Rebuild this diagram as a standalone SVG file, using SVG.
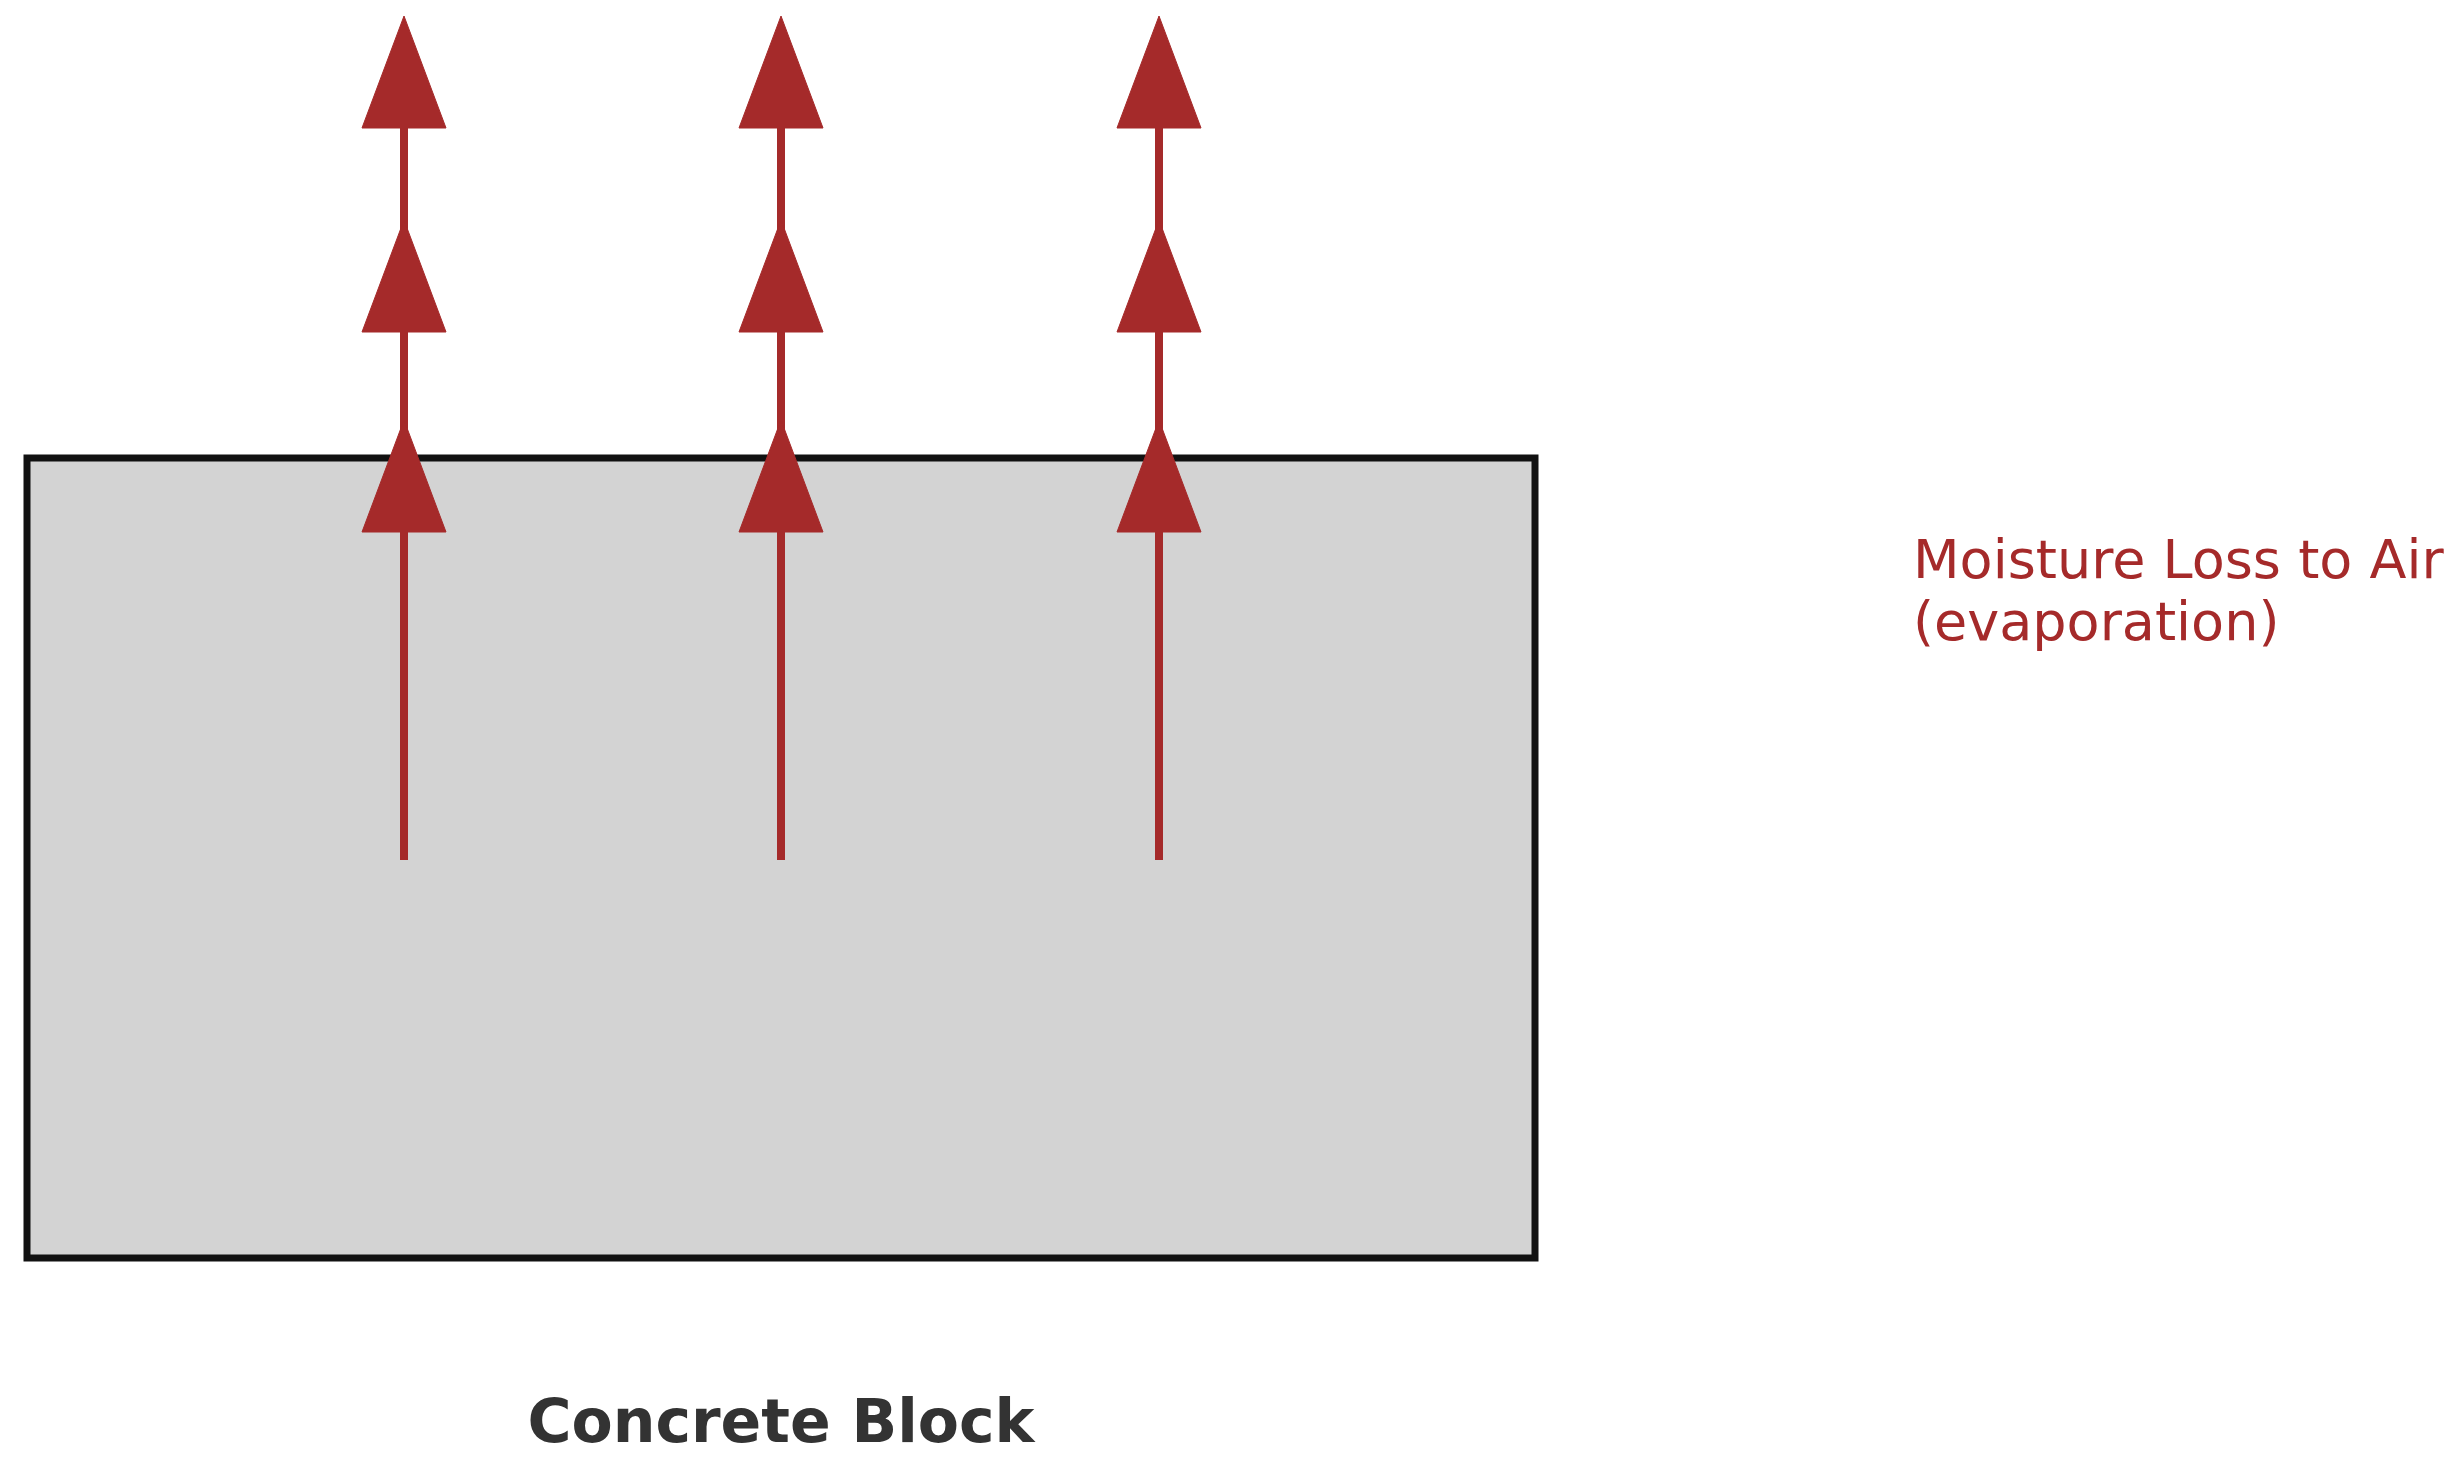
<svg xmlns="http://www.w3.org/2000/svg" width="2464" height="1464" viewBox="0 0 2464 1464">
<style>
.block{fill:#d3d3d3;stroke:#111111;stroke-width:7}
.flow{stroke:#a52a2a;stroke-width:8;fill:none}
.head{fill:#a52a2a;stroke:#a52a2a;stroke-width:1;stroke-linejoin:miter}
.lbl{font-family:"DejaVu Sans",sans-serif;font-size:54px;fill:#a52a2a}
.title{font-family:"DejaVu Sans",sans-serif;font-size:60px;font-weight:bold;fill:#333333}
</style>
<defs>
<polygon id="tri" points="0,0 42,112 -42,112"/>
</defs>
<rect width="2464" height="1464" fill="#ffffff"/>
<g id="concrete-block">
<rect class="block" x="27" y="458" width="1508" height="800"/>
<text class="title" x="781" y="1442" text-anchor="middle">Concrete Block</text>
</g>
<g id="connectors">
<g id="flow-1">
<line class="flow" x1="404" y1="860" x2="404" y2="60"/>
<use href="#tri" class="head" x="404" y="16"/>
<use href="#tri" class="head" x="404" y="220"/>
<use href="#tri" class="head" x="404" y="420"/>
</g>
<g id="flow-2">
<line class="flow" x1="781" y1="860" x2="781" y2="60"/>
<use href="#tri" class="head" x="781" y="16"/>
<use href="#tri" class="head" x="781" y="220"/>
<use href="#tri" class="head" x="781" y="420"/>
</g>
<g id="flow-3">
<line class="flow" x1="1159" y1="860" x2="1159" y2="60"/>
<use href="#tri" class="head" x="1159" y="16"/>
<use href="#tri" class="head" x="1159" y="220"/>
<use href="#tri" class="head" x="1159" y="420"/>
</g>
</g>
<g id="moisture-label">
<text class="lbl" x="1913" y="578">Moisture Loss to Air</text>
<text class="lbl" x="1913" y="640">(evaporation)</text>
</g>
</svg>
